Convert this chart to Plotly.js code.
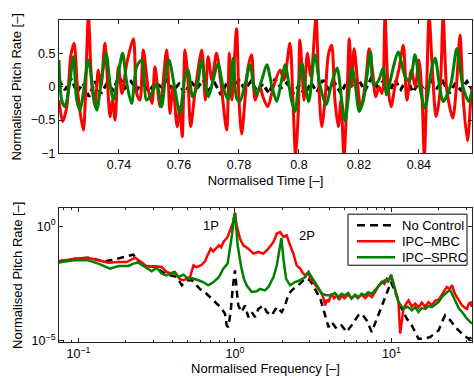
<!DOCTYPE html>
<html>
<head>
<meta charset="utf-8">
<script src="https://cdn.plot.ly/plotly-3.0.1.min.js"></script>
<style>html,body{margin:0;padding:0;background:#fff;}#chart{width:474px;height:378px;}</style>
</head>
<body>
<div id="chart"></div>
<script>
// ---------- Top panel: time series ----------
const tRed = [0.7200,0.7212,0.7226,0.7239,0.7250,0.7264,0.7281,0.7298,0.7309,0.7320,
0.7331,0.7340,0.7353,0.7370,0.7378,0.7387,0.7398,0.7410,0.7426,0.7448,
0.7459,0.7470,0.7481,0.7498,0.7510,0.7520,0.7537,0.7559,0.7570,0.7580,
0.7594,0.7603,0.7611,0.7620,0.7630,0.7639,0.7653,0.7676,0.7688,0.7697,
0.7710,0.7725,0.7740,0.7759,0.7768,0.7776,0.7792,0.7800,0.7809,0.7820,
0.7830,0.7842,0.7854,0.7870,0.7880,0.7896,0.7915,0.7937,0.7950,0.7970,
0.7980,0.7989,0.7998,0.8003,0.8010,0.8017,0.8028,0.8040,0.8057,0.8065,
0.8076,0.8087,0.8098,0.8109,0.8120,0.8131,0.8140,0.8150,0.8160,0.8168,
0.8176,0.8184,0.8206,0.8223,0.8234,0.8245,0.8256,0.8267,0.8277,0.8287,
0.8297,0.8307,0.8320,0.8333,0.8348,0.8360,0.8375,0.8388,0.8400,0.8410,
0.8418,0.8426,0.8434,0.8445,0.8457,0.8470,0.8481,0.8493,0.8513,0.8525,
0.8537,0.8548,0.8562,0.8575,0.8580];
const vRed = [-0.2,-0.52,-0.3,0.45,0.65,-0.15,-0.65,1.05,0.05,-0.3,
0.25,0.0,0.65,-0.45,-0.2,-0.5,0.3,-0.1,0.35,0.72,
-0.1,-0.2,0.55,-0.05,-0.25,0.3,-0.3,0.55,-0.4,0.0,
-0.6,-0.3,-0.75,0.55,0.1,-0.6,-0.1,0.55,-0.2,0.45,
0.1,0.5,0.05,-0.65,0.5,-0.2,0.87,-0.2,-0.71,-0.2,
0.28,0.48,-0.2,0.0,-0.15,-0.3,0.0,0.25,0.1,0.65,
-0.2,-1.05,-0.35,0.7,0.3,-0.2,0.5,0.15,1.05,0.15,
-0.6,-0.2,0.48,0.62,-0.2,-0.6,-0.2,-1.05,-0.2,0.72,
0.0,0.57,-0.32,0.1,0.57,0.25,-0.15,0.0,-0.1,1.05,
0.0,-0.3,0.0,0.25,0.62,-0.2,0.25,0.0,0.4,-0.1,
-1.05,0.0,1.05,0.25,-0.45,-0.1,1.05,-0.05,-0.47,0.0,
0.77,-0.2,-0.81,-0.1,0.0];

const tGreen = [0.7200,0.7209,0.7220,0.7234,0.7248,0.7259,0.7270,0.7281,0.7298,0.7312,
0.7326,0.7340,0.7357,0.7370,0.7381,0.7398,0.7412,0.7426,0.7442,0.7459,
0.7476,0.7492,0.7509,0.7526,0.7542,0.7559,0.7567,0.7585,0.7603,0.7620,
0.7631,0.7645,0.7660,0.7676,0.7687,0.7698,0.7714,0.7730,0.7747,0.7764,
0.7781,0.7792,0.7803,0.7820,0.7837,0.7848,0.7859,0.7876,0.7893,0.7910,
0.7926,0.7940,0.7954,0.7965,0.7976,0.7987,0.7998,0.8010,0.8021,0.8033,
0.8053,0.8070,0.8090,0.8108,0.8127,0.8143,0.8154,0.8165,0.8177,0.8188,
0.8201,0.8215,0.8239,0.8248,0.8264,0.8281,0.8292,0.8314,0.8331,0.8356,
0.8370,0.8387,0.8403,0.8420,0.8443,0.8454,0.8469,0.8481,0.8506,0.8526,
0.8537,0.8548,0.8566,0.8577];
const vGreen = [0.4,-0.2,-0.3,0.0,0.45,-0.2,-0.35,-0.1,0.4,0.0,
-0.35,0.05,0.5,0.05,-0.2,0.2,0.5,0.05,-0.25,0.3,
0.4,-0.2,-0.1,0.05,-0.3,0.3,0.4,0.0,-0.4,0.15,
0.25,-0.15,0.0,0.4,0.05,-0.15,0.1,0.35,0.0,-0.2,
0.43,-0.17,-0.22,0.03,0.33,0.05,-0.12,0.1,0.33,0.0,
-0.22,0.05,0.33,0.08,-0.22,-0.37,0.0,0.35,0.03,-0.22,
0.48,0.03,-0.27,0.03,0.28,-0.22,-0.51,-0.15,0.28,0.03,
-0.37,-0.2,0.52,0.03,0.08,0.28,-0.12,0.28,0.52,0.13,
0.1,0.48,0.0,-0.32,0.28,0.43,0.0,-0.22,0.03,0.57,
0.28,-0.02,-0.22,-0.07];

const tBlack = [0.720,0.722,0.724,0.726,0.728,0.730,0.732,0.734,0.736,0.738,
0.740,0.742,0.744,0.746,0.748,0.750,0.752,0.754,0.756,0.758,
0.760,0.762,0.764,0.766,0.768,0.770,0.772,0.774,0.776,0.778,
0.780,0.782,0.784,0.786,0.788,0.790,0.792,0.794,0.796,0.798,
0.800,0.802,0.804,0.806,0.808,0.810,0.812,0.814,0.816,0.818,
0.820,0.822,0.824,0.826,0.828,0.830,0.832,0.834,0.836,0.838,
0.840,0.842,0.844,0.846,0.848,0.850,0.852,0.854,0.856,0.858];
const vBlack = [0.1,-0.05,0.12,-0.08,0.05,-0.15,0.08,-0.1,0.05,-0.05,
0.15,-0.02,0.08,-0.05,0.1,-0.08,0.06,0.0,0.1,-0.06,
0.04,-0.1,0.08,-0.03,0.1,-0.05,0.05,-0.12,0.06,-0.02,
0.1,-0.04,0.08,-0.06,0.04,-0.1,0.12,-0.02,0.06,-0.1,
0.02,-0.12,0.06,-0.08,0.1,-0.05,0.05,-0.1,0.08,-0.02,
0.1,-0.06,0.12,0.0,0.08,-0.1,0.1,-0.04,0.12,-0.08,
0.06,-0.06,0.1,-0.02,0.08,-0.1,0.04,-0.05,0.08,-0.06];

// ---------- Bottom panel: spectra ----------
const fBlackS = [0.074,0.095,0.115,0.148,0.184,0.224,0.241,0.279,0.308,0.357,
0.385,0.425,0.457,0.492,0.530,0.596,0.658,0.726,0.802,0.863,
0.885,0.906,0.938,0.966,1.0,1.024,1.050,1.103,1.158,1.217,
1.279,1.343,1.410,1.519,1.596,1.718,1.851,1.990,2.09,2.20,
2.36,2.61,2.81,3.02,3.26,3.51,3.77,3.96,4.14,4.46,
4.80,5.17,5.56,6.14,6.45,6.95,7.48,8.05,8.67,9.34,
9.95,10.56,11.37,12.54,13.50,14.89,16.03,17.69,20.0,21.5,
22.06,23.8,26.2,29.0,31.2,33.2];
const aBlackS = [0.0291,0.038,0.0417,0.0291,0.0405,0.0575,0.0273,0.0182,0.0164,0.0084,
0.0071,0.006,0.0026,0.0043,0.0043,0.0018,0.0011,0.0006,0.0003,0.000148,
0.0000455,0.0000385,0.000175,0.0018,0.0117,0.0018,0.00034,0.000175,0.00034,0.000105,
0.000175,0.000105,0.00024,0.00034,0.000175,0.000125,0.00029,0.000175,0.00034,0.00111,
0.0018,0.0031,0.0051,0.0043,0.0018,0.00067,0.000125,0.0000385,0.0000637,0.0000325,
0.0000455,0.0000232,0.0000455,0.000125,0.000148,0.0000753,0.0000232,0.0000891,0.00034,0.00132,
0.0036,0.00132,0.00034,0.0000891,0.0000455,0.0000118,0.0000118,0.000014,0.0000275,0.0000891,
0.000125,0.0000753,0.0000325,0.0000166,0.0000118,0.000014];

const fRedS = [0.074,0.095,0.115,0.134,0.155,0.180,0.203,0.230,0.247,0.273,
0.308,0.340,0.366,0.395,0.414,0.446,0.469,0.516,0.543,0.568,
0.611,0.645,0.667,0.700,0.726,0.764,0.790,0.815,0.842,0.897,
0.940,0.975,1.0,1.024,1.076,1.130,1.217,1.310,1.410,1.519,
1.636,1.762,1.851,1.942,2.04,2.14,2.25,2.36,2.48,2.61,
2.71,2.81,2.95,3.02,3.10,3.26,3.42,3.59,3.68,3.77,
3.86,3.96,4.14,4.30,4.46,4.63,4.80,5.00,5.29,5.55,
5.84,6.10,6.45,6.80,7.12,7.50,7.86,8.20,8.67,9.00,
9.34,9.70,9.95,10.56,11.09,11.37,11.94,12.40,12.86,13.50,
14.18,14.90,15.64,16.40,17.26,18.10,19.04,20.0,21.0,21.8,
22.6,23.5,24.4,25.3,26.2,27.2,28.3,29.3,30.4,31.2,
31.9,32.6,33.2];
const aRedS = [0.029,0.038,0.042,0.032,0.0255,0.027,0.027,0.042,0.029,0.0176,
0.0176,0.0164,0.0099,0.0084,0.0099,0.0047,0.0043,0.006,0.0195,0.0164,
0.02,0.03,0.053,0.105,0.08,0.12,0.147,0.12,0.2,0.34,
0.79,1.6,3.98,1.1,0.29,0.147,0.105,0.063,0.075,0.063,
0.105,0.206,0.48,0.56,0.34,0.40,0.147,0.063,0.0195,0.0139,
0.009,0.0071,0.0099,0.0055,0.0043,0.0026,0.0018,0.00111,0.0007,0.00034,
0.0006,0.00048,0.00111,0.0007,0.00095,0.0006,0.00094,0.0007,0.001,0.0007,
0.00094,0.0007,0.00101,0.0007,0.001,0.0008,0.00132,0.0022,0.0036,0.003,
0.0051,0.0045,0.0076,0.0018,0.00048,0.00002,0.00024,0.0004,0.00057,0.0003,
0.00041,0.00028,0.00045,0.0003,0.00048,0.00035,0.00055,0.0006,0.00094,0.0015,
0.0022,0.0018,0.0026,0.0012,0.00079,0.0005,0.00034,0.00028,0.00024,0.0004,
0.00048,0.0003,0.00057];

const fGreenS = [0.074,0.095,0.115,0.134,0.159,0.180,0.208,0.224,0.241,0.266,
0.294,0.316,0.340,0.366,0.405,0.435,0.469,0.505,0.530,0.582,
0.626,0.674,0.726,0.790,0.842,0.897,0.940,0.960,0.980,1.0,
1.04,1.09,1.14,1.187,1.279,1.376,1.445,1.557,1.636,1.762,
1.851,1.923,1.980,2.04,2.12,2.25,2.42,2.61,2.81,2.95,
3.10,3.34,3.59,3.86,4.14,4.35,4.57,4.80,5.04,5.30,
5.56,5.85,6.14,6.45,6.78,7.10,7.48,7.85,8.26,8.70,
9.11,9.50,9.95,10.56,11.09,11.94,12.70,13.50,14.20,14.89,
15.60,16.43,17.30,18.13,19.0,20.0,21.0,22.06,23.0,23.8,
24.7,25.6,27.0,28.3,29.3,30.4,31.5,32.7];
const aGreenS = [0.0255,0.033,0.0324,0.0231,0.0139,0.0182,0.0182,0.0231,0.0255,0.0164,
0.0106,0.0149,0.0084,0.0071,0.0099,0.006,0.0076,0.0047,0.0054,0.0043,
0.0036,0.0026,0.0035,0.006,0.014,0.023,0.15,0.5,2.2,3.8,
0.15,0.0195,0.005,0.0026,0.00132,0.00141,0.0018,0.00156,0.0022,0.0060,
0.0195,0.075,0.3,0.038,0.0051,0.0026,0.0036,0.0043,0.0060,0.0099,
0.0060,0.0026,0.00111,0.00094,0.00094,0.0012,0.00079,0.0011,0.00094,0.0012,
0.00067,0.001,0.00079,0.0011,0.00094,0.0013,0.00111,0.0016,0.0026,0.0035,
0.0043,0.0038,0.0071,0.0018,0.00048,0.00024,0.0003,0.000207,0.00028,0.000175,
0.00026,0.00024,0.00032,0.00029,0.00038,0.00048,0.0008,0.00111,0.0014,0.00156,
0.0009,0.00048,0.00025,0.000175,0.00012,0.0000891,0.00007,0.0000538];

const seriesNames = ['No Control', 'IPC\u2013MBC', 'IPC\u2013SPRC'];
const timeTicks = [0.74, 0.76, 0.78, 0.80, 0.82, 0.84];
const rateTicks = [-1, -0.5, 0, 0.5];
const freqTicks = [0.1, 1, 10];
const freqTickText = ['10<sup>\u22121</sup>', '10<sup>0</sup>', '10<sup>1</sup>'];
const freqMinor = [0.08,0.09,0.2,0.3,0.4,0.5,0.6,0.7,0.8,0.9,2,3,4,5,6,7,8,9,20,30];
const ampTicks = [1e-5, 1];
const ampTickText = ['10<sup>\u22125</sup>', '10<sup>0</sup>'];

const BLACK = '#000000', RED = '#ff0000', GREEN = '#008000';
const COLORS = [BLACK, RED, GREEN];
const FONT = 'Liberation Sans, Arial, Helvetica, sans-serif';

const traces = [
  {x: tBlack, y: vBlack, xaxis: 'x', yaxis: 'y', mode: 'lines', showlegend: false, name: seriesNames[0],
   line: {color: BLACK, width: 3, dash: '6px,4px'}},
  {x: tRed, y: vRed, xaxis: 'x', yaxis: 'y', mode: 'lines', showlegend: false, name: seriesNames[1],
   line: {color: RED, width: 3, shape: 'spline', smoothing: 0.8}},
  {x: tGreen, y: vGreen, xaxis: 'x', yaxis: 'y', mode: 'lines', showlegend: false, name: seriesNames[2],
   line: {color: GREEN, width: 3, shape: 'spline', smoothing: 0.8}},
  {x: fBlackS, y: aBlackS, xaxis: 'x2', yaxis: 'y2', mode: 'lines', name: seriesNames[0], showlegend: false,
   line: {color: BLACK, width: 2.5, dash: '7px,5px'}},
  {x: fRedS, y: aRedS, xaxis: 'x2', yaxis: 'y2', mode: 'lines', name: seriesNames[1], showlegend: false,
   line: {color: RED, width: 2.5}},
  {x: fGreenS, y: aGreenS, xaxis: 'x2', yaxis: 'y2', mode: 'lines', name: seriesNames[2], showlegend: false,
   line: {color: GREEN, width: 2.5}}
];

const axCommon = {
  showline: true, linecolor: '#222', linewidth: 1, mirror: 'ticks',
  ticks: 'inside', ticklen: 4, tickcolor: '#222', showgrid: false, zeroline: false,
  tickfont: {family: FONT, size: 12.5, color: '#000'}
};

// compact legend box (paper coordinates of the lower panel area)
const legBox = {x0: 0.6998, x1: 0.9879, y0: 0.2384, y1: 0.397};
const legRowsY = [0.3628, 0.3130, 0.2633];
const legLineX = [0.7215, 0.8136];
const legTextX = 0.8257;

const shapes = [
  {type: 'rect', xref: 'paper', yref: 'paper', x0: legBox.x0, x1: legBox.x1, y0: legBox.y0, y1: legBox.y1,
   line: {color: '#000', width: 1}, fillcolor: '#fff', layer: 'above'}
];
const annotations = [
  {xref: 'x2', yref: 'y2', x: -0.152, y: 0.044, text: '1P', showarrow: false,
   font: {family: FONT, size: 13, color: '#000'}},
  {xref: 'x2', yref: 'y2', x: 0.463, y: -0.395, text: '2P', showarrow: false,
   font: {family: FONT, size: 13, color: '#000'}}
];
seriesNames.forEach(function (nm, i) {
  shapes.push({type: 'line', xref: 'paper', yref: 'paper', x0: legLineX[0], x1: legLineX[1],
    y0: legRowsY[i], y1: legRowsY[i], layer: 'above',
    line: {color: COLORS[i], width: 2.5, dash: i === 0 ? '8px,5px' : 'solid'}});
  annotations.push({xref: 'paper', yref: 'paper', x: legTextX, y: legRowsY[i], xanchor: 'left', yanchor: 'middle',
    text: nm, showarrow: false, font: {family: FONT, size: 13, color: '#000'}});
});

const layout = {
  width: 474, height: 378,
  margin: {l: 59, r: 2, t: 20, b: 36.3, pad: 0},
  paper_bgcolor: '#fff', plot_bgcolor: '#fff',
  font: {family: FONT, size: 13, color: '#000'},
  showlegend: false,
  xaxis: Object.assign({}, axCommon, {
    domain: [0, 1], anchor: 'y', range: [0.72, 0.8577],
    tickmode: 'array', tickvals: timeTicks,
    title: {text: 'Normalised Time [\u2013]', font: {size: 13}, standoff: 4}
  }),
  yaxis: Object.assign({}, axCommon, {
    domain: [0.5856, 1], anchor: 'x', range: [-1, 1],
    tickmode: 'array', tickvals: rateTicks,
    title: {text: 'Normalised Pitch Rate [\u2013]', font: {size: 13}, standoff: 6}
  }),
  xaxis2: Object.assign({}, axCommon, {
    domain: [0, 1], anchor: 'y2', type: 'log', range: [-1.125, 1.515],
    tickmode: 'array', tickvals: freqTicks, ticktext: freqTickText,
    minor: {tickmode: 'array', tickvals: freqMinor, ticks: 'inside', ticklen: 2, tickcolor: '#222', showgrid: false},
    title: {text: 'Normalised Frequency [\u2013]', font: {size: 13}, standoff: 2}
  }),
  yaxis2: Object.assign({}, axCommon, {
    domain: [0, 0.4147], anchor: 'x2', type: 'log', range: [-5.07, 0.78],
    tickmode: 'array', tickvals: ampTicks, ticktext: ampTickText,
    title: {text: 'Normalised Pitch Rate [\u2013]', font: {size: 13}, standoff: 6}
  }),
  shapes: shapes,
  annotations: annotations
};

Plotly.newPlot('chart', traces, layout, {displayModeBar: false, staticPlot: true});
</script>
</body>
</html>
